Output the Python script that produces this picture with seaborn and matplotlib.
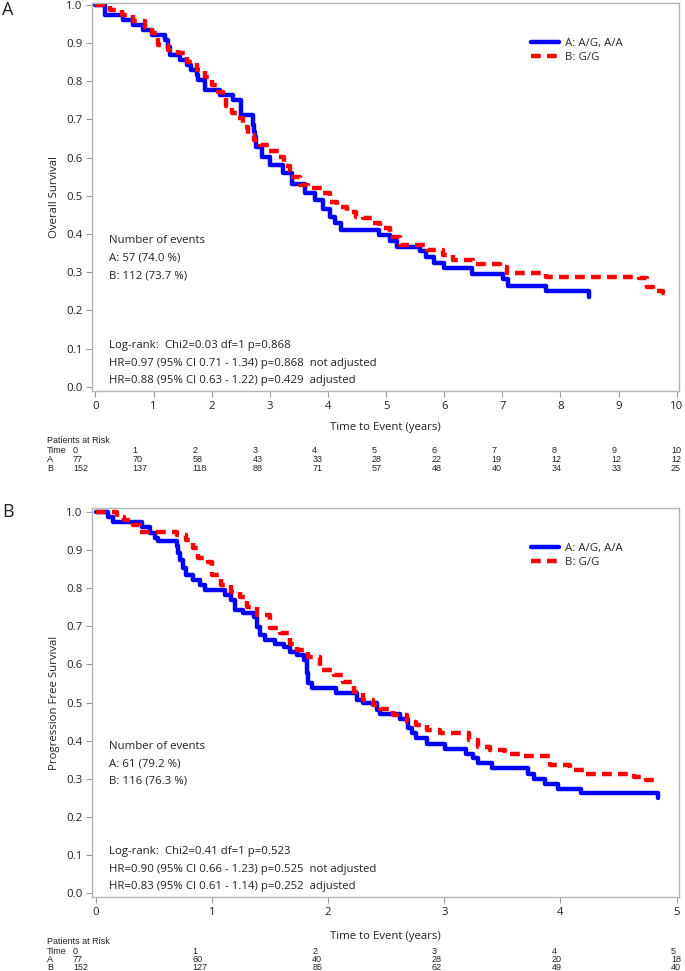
import matplotlib
matplotlib.use("Agg")
import matplotlib.pyplot as plt
import seaborn as sns
import pandas as pd
from matplotlib.lines import Line2D

# ---------------- data ----------------
group_labels = ["A: A/G, A/A", "B: G/G"]

os_a_time = [0, 0.16, 0.48, 0.65, 0.82, 0.97, 1.19, 1.25, 1.28, 1.45, 1.57, 1.65, 1.74, 1.77, 1.88,
             2.14, 2.37, 2.51, 2.71, 2.73, 2.75, 2.77, 2.86, 3.00, 3.23, 3.38, 3.60, 3.78, 3.92, 4.03,
             4.12, 4.22, 4.87, 5.07, 5.18, 5.59, 5.68, 5.82, 6.00, 6.48, 7.02, 7.10, 7.75, 8.50]
os_a_surv = [1.0, 0.974, 0.961, 0.948, 0.935, 0.922, 0.909, 0.891, 0.869, 0.856, 0.843, 0.830, 0.817, 0.804, 0.777,
             0.764, 0.751, 0.712, 0.686, 0.668, 0.655, 0.629, 0.603, 0.581, 0.559, 0.530, 0.507, 0.488, 0.466, 0.445,
             0.428, 0.410, 0.397, 0.383, 0.365, 0.356, 0.339, 0.325, 0.312, 0.295, 0.282, 0.264, 0.251, 0.236]

os_b_time = [0, 0.25, 0.45, 0.65, 0.85, 0.97, 1.08, 1.25, 1.42, 1.57, 1.74, 1.88, 2.00, 2.10, 2.20,
             2.25, 2.35, 2.43, 2.53, 2.63, 2.73, 2.83, 2.98, 3.15, 3.25, 3.35, 3.52, 3.66, 3.92, 4.03,
             4.15, 4.32, 4.49, 4.61, 4.78, 4.90, 5.07, 5.24, 5.70, 5.98, 6.16, 6.50, 6.96, 7.08, 7.76,
             9.35, 9.49, 9.60, 9.77, 9.82]
os_b_surv = [1.0, 0.987, 0.974, 0.957, 0.943, 0.926, 0.895, 0.882, 0.873, 0.851, 0.830, 0.812, 0.790, 0.773, 0.756,
             0.734, 0.718, 0.703, 0.681, 0.659, 0.646, 0.633, 0.618, 0.603, 0.577, 0.550, 0.528, 0.520, 0.507, 0.485,
             0.472, 0.458, 0.445, 0.441, 0.428, 0.415, 0.393, 0.371, 0.358, 0.345, 0.332, 0.322, 0.314, 0.297, 0.288,
             0.284, 0.262, 0.252, 0.245, 0.245]

pfs_a_time = [0, 0.11, 0.15, 0.40, 0.47, 0.51, 0.54, 0.70, 0.71, 0.725, 0.75, 0.78, 0.84, 0.90, 0.94,
              1.11, 1.16, 1.20, 1.27, 1.36, 1.385, 1.41, 1.46, 1.54, 1.62, 1.67, 1.73, 1.79, 1.815, 1.83,
              1.86, 2.07, 2.25, 2.30, 2.42, 2.45, 2.62, 2.69, 2.72, 2.76, 2.85, 3.01, 3.19, 3.25, 3.29,
              3.41, 3.72, 3.77, 3.87, 3.98, 4.18, 4.84]
pfs_a_surv = [1.0, 0.988, 0.975, 0.962, 0.945, 0.932, 0.923, 0.910, 0.892, 0.875, 0.853, 0.835, 0.822, 0.809, 0.796,
              0.782, 0.769, 0.743, 0.734, 0.725, 0.699, 0.677, 0.664, 0.655, 0.647, 0.633, 0.625, 0.612, 0.577, 0.550,
              0.537, 0.524, 0.506, 0.498, 0.481, 0.469, 0.456, 0.432, 0.419, 0.406, 0.392, 0.379, 0.366, 0.353, 0.340,
              0.327, 0.313, 0.300, 0.287, 0.274, 0.261, 0.248]

pfs_b_time = [0, 0.18, 0.24, 0.32, 0.38, 0.70, 0.78, 0.84, 0.88, 0.97, 1.00, 1.08, 1.16, 1.24, 1.30,
              1.385, 1.50, 1.59, 1.67, 1.73, 1.83, 1.93, 2.05, 2.13, 2.22, 2.30, 2.39, 2.45, 2.56, 2.68,
              2.76, 2.85, 2.96, 3.21, 3.29, 3.39, 3.52, 3.65, 3.91, 4.08, 4.21, 4.63, 4.74, 4.81]
pfs_b_surv = [1.0, 0.988, 0.980, 0.967, 0.949, 0.940, 0.927, 0.905, 0.879, 0.870, 0.835, 0.809, 0.791, 0.778, 0.752,
              0.730, 0.695, 0.682, 0.655, 0.638, 0.620, 0.585, 0.572, 0.554, 0.528, 0.506, 0.493, 0.484, 0.467, 0.449,
              0.441, 0.427, 0.419, 0.401, 0.383, 0.375, 0.366, 0.359, 0.335, 0.322, 0.313, 0.305, 0.296, 0.287]

os_risk_times = [0, 1, 2, 3, 4, 5, 6, 7, 8, 9, 10]
os_risk_a = [77, 70, 58, 43, 33, 28, 22, 19, 12, 12, 12]
os_risk_b = [152, 137, 118, 88, 71, 57, 48, 40, 34, 33, 25]
pfs_risk_times = [0, 1, 2, 3, 4, 5]
pfs_risk_a = [77, 60, 40, 28, 20, 18]
pfs_risk_b = [152, 127, 85, 62, 49, 40]

y_ticks = [0.0, 0.1, 0.2, 0.3, 0.4, 0.5, 0.6, 0.7, 0.8, 0.9, 1.0]

os_events = ["Number of events", "A: 57 (74.0 %)", "B: 112 (73.7 %)"]
os_tests = ["Log-rank:  Chi2=0.03 df=1 p=0.868",
            "HR=0.97 (95% CI 0.71 - 1.34) p=0.868  not adjusted",
            "HR=0.88 (95% CI 0.63 - 1.22) p=0.429  adjusted"]
pfs_events = ["Number of events", "A: 61 (79.2 %)", "B: 116 (76.3 %)"]
pfs_tests = ["Log-rank:  Chi2=0.41 df=1 p=0.523",
             "HR=0.90 (95% CI 0.66 - 1.23) p=0.525  not adjusted",
             "HR=0.83 (95% CI 0.61 - 1.14) p=0.252  adjusted"]

# ---------------- style ----------------
sns.set_theme(style="white")
FONT = ["Open Sans", "DejaVu Sans"]
NARROW = ["Liberation Sans Narrow", "Liberation Sans", "DejaVu Sans"]
plt.rcParams["font.family"] = FONT

BLUE = "#0000ff"
RED = "#ff0000"
LW = 3.2
DASH = (2.2, 1.4)
SPINE = "#b4b4b4"
TXT = "#222222"
FS = 8.2

W, H = 685, 971
fig = plt.figure(figsize=(W / 100, H / 100), dpi=100)


def fy(px):
    return 1 - px / H


def fx(px):
    return px / W


def panel(top_px, bot_px, xlim, ylim, xticks, ta, sa, tb, sb, ylabel, events, tests,
          letter, letter_y, xlabel_y, risk_times, risk_a, risk_b, table_y):
    left, right = 92, 679
    ax = fig.add_axes([fx(left), fy(bot_px), fx(right - left), (bot_px - top_px) / H])
    df = pd.concat([
        pd.DataFrame({"t": ta, "S": sa, "g": group_labels[0]}),
        pd.DataFrame({"t": tb, "S": sb, "g": group_labels[1]}),
    ])
    sns.lineplot(data=df, x="t", y="S", hue="g", style="g",
                 palette={group_labels[0]: BLUE, group_labels[1]: RED},
                 dashes={group_labels[0]: "", group_labels[1]: DASH},
                 estimator=None, sort=False, drawstyle="steps-post",
                 linewidth=LW, legend=False, ax=ax)
    ax.set_xlim(*xlim)
    ax.set_ylim(*ylim)
    ax.set_xticks(xticks)
    ax.set_xticklabels([str(v) for v in xticks])
    ax.set_yticks(y_ticks)
    ax.set_yticklabels([f"{v:.1f}" for v in y_ticks])
    ax.set_xlabel("")
    ax.set_ylabel(ylabel, fontsize=FS, color=TXT, labelpad=4)
    for s in ax.spines.values():
        s.set_color(SPINE)
        s.set_linewidth(1.0)
    ax.tick_params(axis="both", direction="out", length=4, width=0.8, color="#9a9a9a",
                   labelsize=FS, labelcolor=TXT, pad=3, left=True, bottom=True)

    # legend
    handles = [Line2D([], [], color=BLUE, lw=LW),
               Line2D([], [], color=RED, lw=LW, dashes=DASH)]
    ax.legend(handles, group_labels, loc="upper left",
              bbox_to_anchor=((531 - left) / (right - left), 1 - 35 / (bot_px - top_px)),
              frameon=False, fontsize=FS, handlelength=2.5, handletextpad=0.5,
              labelspacing=0.25, borderpad=0, borderaxespad=0)

    # annotations
    ys = [0.387, 0.342, 0.297]
    for txt, yv in zip(events, ys):
        ax.text(0.029, yv, txt, transform=ax.transAxes, va="center", ha="left",
                fontsize=FS, color=TXT)
    ys = [0.116, 0.0714, 0.0265]
    for txt, yv in zip(tests, ys):
        ax.text(0.029, yv, txt, transform=ax.transAxes, va="center", ha="left",
                fontsize=FS, color=TXT)

    fig.text(fx(2), fy(letter_y), letter, fontsize=13, va="center", ha="left", color=TXT)
    fig.text(fx((left + right) / 2), fy(xlabel_y), "Time to Event (years)",
             fontsize=FS, ha="center", va="center", color=TXT)

    # risk table
    fs = 6.5
    fig.text(fx(47), fy(table_y[0]), "Patients at Risk", fontsize=fs, family=NARROW,
             va="center", ha="left", color=TXT)
    rows = [("Time", risk_times), ("A", risk_a), ("B", risk_b)]
    n = len(risk_times) - 1
    for (name, vals), yp in zip(rows, table_y[1:]):
        fig.text(fx(47), fy(yp), name, fontsize=fs, family=NARROW, va="center", ha="left", color=TXT)
        for k, v in enumerate(vals):
            xp = 73 + (671 - 73) * k / n
            fig.text(fx(xp), fy(yp), str(v), fontsize=fs, family=NARROW,
                     va="center", ha="left", color=TXT)
    return ax


panel(3, 391, (-0.06, 10.04), (-0.011, 1.005), os_risk_times,
      os_a_time, os_a_surv, os_b_time, os_b_surv, "Overall Survival",
      os_events, os_tests, "A", 10, 427, os_risk_times, os_risk_a, os_risk_b,
      [440.5, 450.5, 459.5, 468.5])

panel(508, 897, (-0.032, 5.02), (-0.011, 1.011), pfs_risk_times,
      pfs_a_time, pfs_a_surv, pfs_b_time, pfs_b_surv, "Progression Free Survival",
      pfs_events, pfs_tests, "B", 512, 936, pfs_risk_times, pfs_risk_a, pfs_risk_b,
      [941.5, 951, 959.5, 967.5])

fig.savefig("out.png", dpi=100)
